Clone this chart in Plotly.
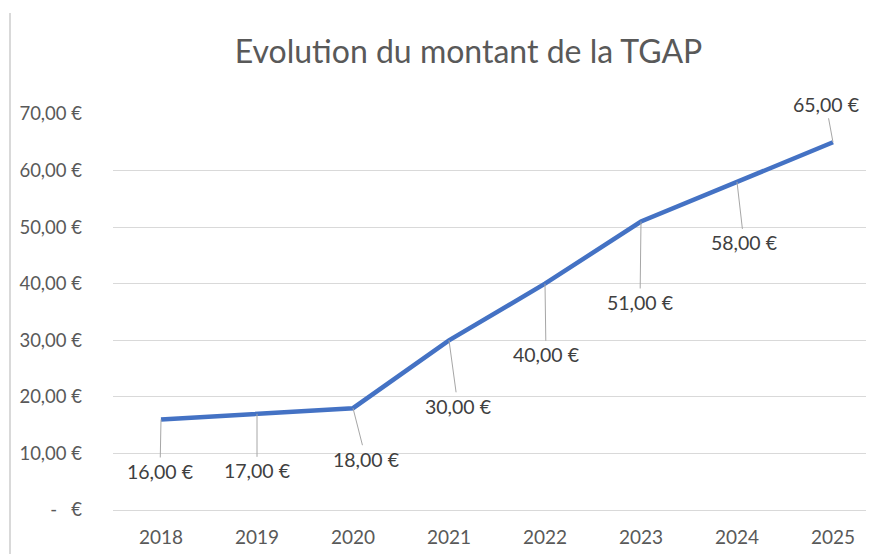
import plotly.graph_objects as go

years = ["2018", "2019", "2020", "2021", "2022", "2023", "2024", "2025"]
montant = [16, 17, 18, 30, 40, 51, 58, 65]
y_ticks = [0, 10, 20, 30, 40, 50, 60, 70]
y_tick_labels = ["-\u00a0\u00a0\u00a0€", "10,00 €", "20,00 €", "30,00 €", "40,00 €", "50,00 €", "60,00 €", "70,00 €"]
title_text = "Evolution du montant de la TGAP"

# label offsets (style): pixel offset from point to label
label_dx = [-1, 0, 13, 9, 1, -1, 7, -7]
label_dy = [52, 57, 51, 66, 71, 81, 61, -38]

def fmt(v):
    return f"{v:.2f}".replace(".", ",") + " €"

font_family = "Lato, 'Open Sans', sans-serif"
grey_text = "#595959"

fig = go.Figure()
fig.add_trace(go.Scatter(
    x=years, y=montant, mode="lines",
    line=dict(color="#4472C4", width=4.5),
    hoverinfo="skip",
))

for i, v in enumerate(montant):
    fig.add_annotation(
        x=i, y=v, text=fmt(v),
        showarrow=True, arrowhead=0, arrowwidth=1, arrowcolor="#a6a6a6",
        ax=label_dx[i], ay=label_dy[i],
        standoff=0, startstandoff=1,
        font=dict(family=font_family, size=19.5, color="#404040"),
    )

W, H = 874, 554
L, R, T, B = 105, 1, 106, 52
pw, ph = W - L - R, H - T - B

fig.update_layout(
    width=W, height=H,
    margin=dict(l=L, r=R, t=T, b=B),
    paper_bgcolor="white", plot_bgcolor="white",
    showlegend=False,
    title=dict(
        text=title_text, xref="container", yref="container",
        x=460.5 / W, xanchor="center", y=1 - 44 / H, yanchor="middle",
        font=dict(family=font_family, size=32, color=grey_text),
    ),
    xaxis=dict(
        type="category", range=[-0.5, 7.5],
        showgrid=False, showline=False, zeroline=False,
        ticks="", ticklabelstandoff=14,
        tickfont=dict(family=font_family, size=19, color=grey_text),
    ),
    yaxis=dict(
        range=[0, 70], tickvals=y_ticks, ticktext=y_tick_labels,
        showgrid=True, gridcolor="#d9d9d9", gridwidth=1,
        zeroline=True, zerolinecolor="#d9d9d9", zerolinewidth=1,
        showline=False, ticks="", ticklabelstandoff=30,
        tickfont=dict(family=font_family, size=18.5, color=grey_text),
    ),
)

# chart-area left border (style)
bx = (2 - L) / pw
fig.add_shape(type="line", xref="paper", yref="paper",
              x0=bx, x1=bx,
              y0=-B / ph, y1=(H - B - 5) / ph,
              line=dict(color="#d9d9d9", width=2))

fig.write_html("out.html")
